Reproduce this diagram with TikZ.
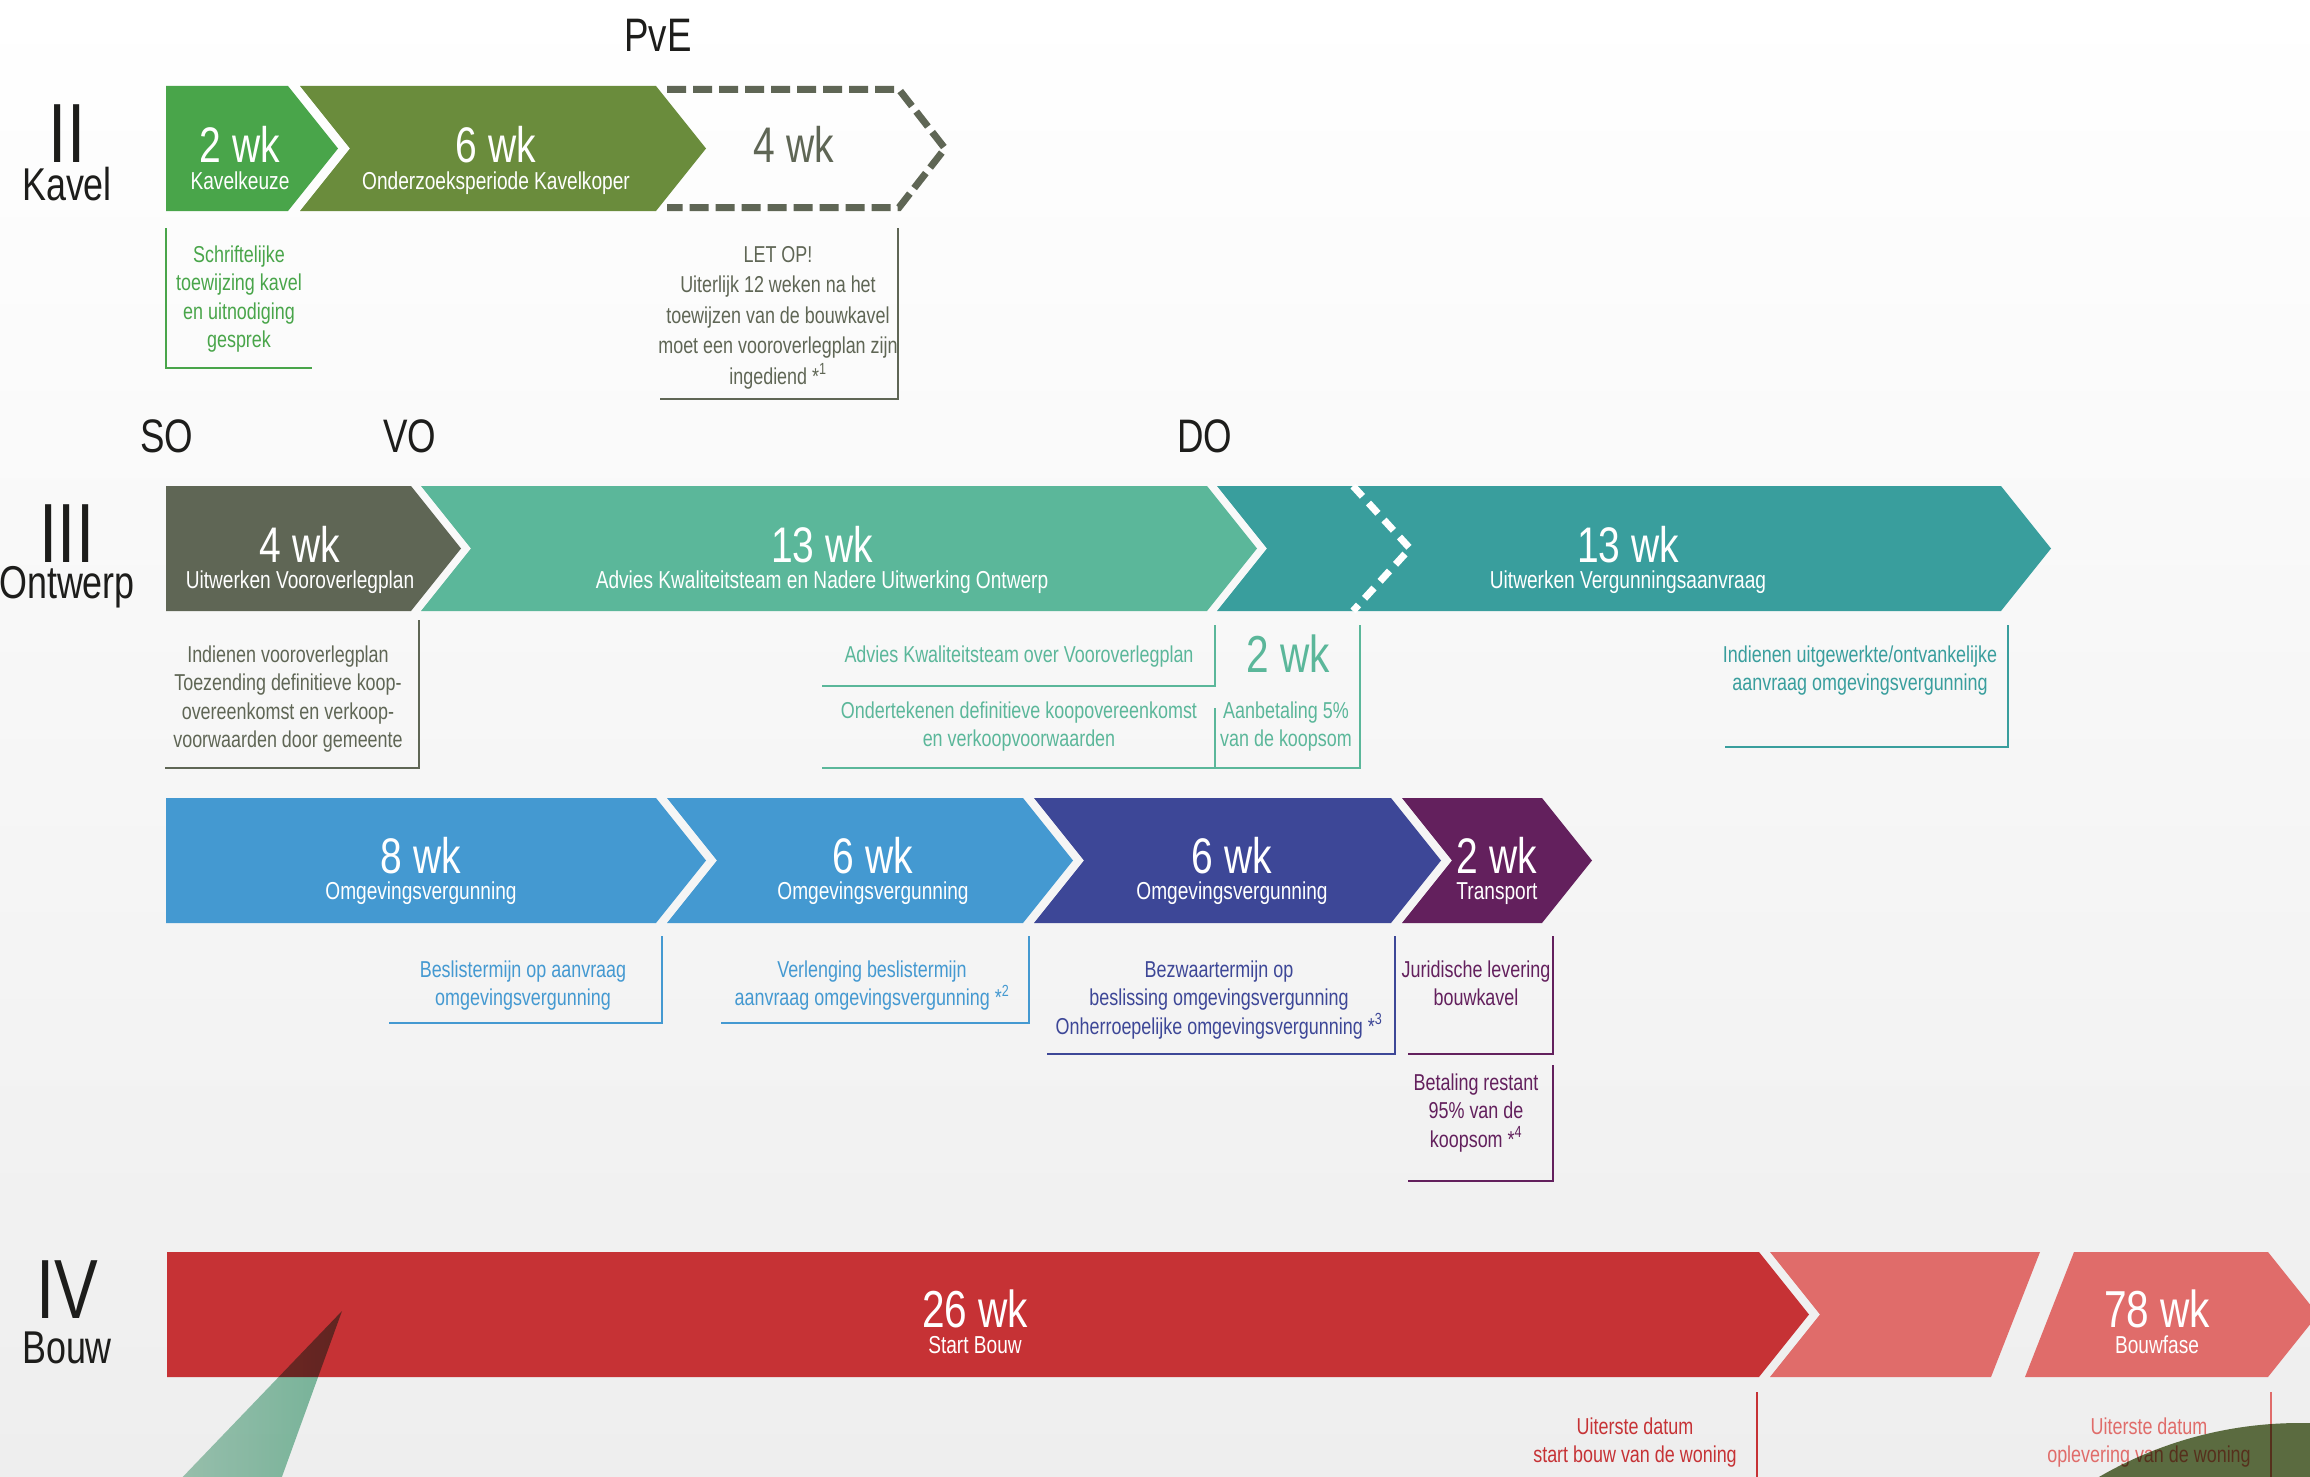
\documentclass[tikz,border=0pt]{standalone}
\usepackage{fontspec}
\setmainfont{Liberation Sans}[FakeStretch=0.78]
\definecolor{cgreen}{HTML}{49A54A}
\definecolor{colive}{HTML}{6A8C3C}
\definecolor{cgray}{HTML}{5F6655}
\definecolor{cmint}{HTML}{5BB79A}
\definecolor{cteal}{HTML}{399E9D}
\definecolor{cblue}{HTML}{4499D1}
\definecolor{cnavy}{HTML}{3D4797}
\definecolor{cpurple}{HTML}{63205D}
\definecolor{cred}{HTML}{C63235}
\definecolor{clred}{HTML}{E06C6A}
\definecolor{cink}{HTML}{1D1D1B}
\definecolor{ccircle}{HTML}{627345}
\definecolor{cbeamA}{HTML}{A4CDB9}
\definecolor{cbeamB}{HTML}{7CBEA1}
\definecolor{cbgbot}{HTML}{EEEEEE}
\newcommand\mlines[1]{\vtop{\halign{\hfil##\hfil\cr#1\crcr}}}
% two lines of different size, baselines #3 pt apart
\newcommand\duo[3]{\vtop{\baselineskip=#3pt\lineskiplimit=-\maxdimen\halign{\hfil##\hfil\cr#1\cr#2\crcr}}}
\newcommand\numf{\fontsize{50}{50}\selectfont}
\newcommand\bignumf{\fontsize{52}{52}\selectfont}
\newcommand\subf{\fontsize{24.5}{24.5}\selectfont}
\newcommand\romf{\fontsize{84}{84}\selectfont}
\newcommand\wordf{\fontsize{46}{46}\selectfont}
\tikzset{
  lbl/.style={text=white, anchor=base, inner sep=0pt},
  num/.style={font=\numf, text=white, anchor=base, inner sep=0pt},
  note/.style={font=\fontsize{23}{28.5}\selectfont, anchor=base, inner sep=0pt},
  notewide/.style={font=\fontsize{23}{30.5}\selectfont, anchor=base, inner sep=0pt},
  hdr/.style={font=\fontsize{47}{47}\selectfont, text=cink, anchor=base, inner sep=0pt},
  phase/.style={text=cink, anchor=base, inner sep=0pt},
  nline/.style={line width=2.5pt},
}
\begin{document}
\begin{tikzpicture}[x=1pt,y=-1pt]
\useasboundingbox (0,0) rectangle (2310,1477);
\clip (0,0) rectangle (2310,1477);
\shade[top color=white, bottom color=cbgbot] (0,0) rectangle (2310,1477);

% ---------- headers ----------
\node[hdr] (pve) at (658,52) {PvE};
\node[hdr] (so) at (167,452) {SO};
\node[hdr] (vo) at (410,452) {VO};
\node[hdr] (do) at (1205,452) {DO};
\node[phase] (ph2) at (67,163) {\duo{\romf II}{\wordf Kavel}{37}};
\node[phase] (ph3) at (67,562) {\duo{\romf III}{\wordf Ontwerp}{36}};
\node[phase] (ph4) at (67,1318) {\duo{\romf IV}{\wordf Bouw}{45}};

% ---------- row II ----------
\fill[cgreen] (166,86) -- (288,86) -- (338,148.5) -- (288,211) -- (166,211) -- cycle;
\fill[colive] (300,86) -- (656,86) -- (706,148.5) -- (656,211) -- (300,211) -- (350,148.5) -- cycle;
\draw[cgray, line width=7pt, dash pattern=on 19pt off 7pt] (667,89.5) -- (899,89.5) -- (945,148.5) -- (899,207.5) -- (667,207.5);
\node[lbl] (a1) at (240,163) {\duo{\numf 2 wk}{\subf Kavelkeuze}{26}};
\node[lbl] (a2) at (496,163) {\duo{\numf 6 wk}{\subf Onderzoeksperiode Kavelkoper}{26}};
\node[num, text=cgray] (a3) at (794,163) {4 wk};

\node[note, text=cgreen] (t1) at (239,262) {\mlines{Schriftelijke\cr toewijzing kavel\cr en uitnodiging\cr gesprek}};
\draw[nline, cgreen] (166,228) -- (166,368) -- (312,368);
\node[notewide, text=cgray] (t2) at (778,262) {\mlines{LET OP!\cr Uiterlijk 12 weken na het\cr toewijzen van de bouwkavel\cr moet een vooroverlegplan zijn\cr ingediend *\textsuperscript{1}}};
\draw[nline, cgray] (898,228) -- (898,399) -- (660,399);

% ---------- row III ----------
\fill[cgray] (166,486) -- (411,486) -- (461,548.5) -- (411,611) -- (166,611) -- cycle;
\fill[cmint] (421,486) -- (1207,486) -- (1257,548.5) -- (1207,611) -- (421,611) -- (471,548.5) -- cycle;
\fill[cteal] (1217,486) -- (2001,486) -- (2051,548.5) -- (2001,611) -- (1217,611) -- (1267,548.5) -- cycle;
\draw[white, line width=7pt, dash pattern=on 14pt off 9pt] (1353,486) -- (1410,548.5) -- (1353,611);
\node[lbl] (b1) at (300,562) {\duo{\numf 4 wk}{\subf Uitwerken Vooroverlegplan}{26}};
\node[lbl] (b2) at (822,562) {\duo{\numf 13 wk}{\subf Advies Kwaliteitsteam en Nadere Uitwerking Ontwerp}{26}};
\node[lbl] (b3) at (1628,562) {\duo{\numf 13 wk}{\subf Uitwerken Vergunningsaanvraag}{26}};

\node[note, text=cgray] (t3) at (288,662) {\mlines{Indienen vooroverlegplan\cr Toezending definitieve koop-\cr overeenkomst en verkoop-\cr voorwaarden door gemeente}};
\draw[nline, cgray] (419,620) -- (419,768) -- (165,768);
\node[note, text=cmint] (t4) at (1019,662) {Advies Kwaliteitsteam over Vooroverlegplan};
\draw[nline, cmint] (1215,625) -- (1215,686) -- (822,686);
\node[note, text=cmint] (t5) at (1019,718) {\mlines{Ondertekenen definitieve koopovereenkomst\cr en verkoopvoorwaarden}};
\draw[nline, cmint] (1215,708) -- (1215,768);
\draw[nline, cmint] (822,768) -- (1360,768) -- (1360,625);
\node[num, text=cmint, font=\fontsize{52}{52}\selectfont] (t6) at (1288,672) {2 wk};
\node[note, text=cmint] (t7) at (1286,718) {\mlines{Aanbetaling 5\%\cr van de koopsom}};
\node[note, text=cteal] (t8) at (1860,662) {\mlines{Indienen uitgewerkte/ontvankelijke\cr aanvraag omgevingsvergunning}};
\draw[nline, cteal] (2008,625) -- (2008,747) -- (1725,747);

% ---------- permit row ----------
\fill[cblue] (166,798) -- (656,798) -- (706,860.5) -- (656,923) -- (166,923) -- cycle;
\fill[cblue] (667,798) -- (1023,798) -- (1073,860.5) -- (1023,923) -- (667,923) -- (717,860.5) -- cycle;
\fill[cnavy] (1034,798) -- (1391,798) -- (1441,860.5) -- (1391,923) -- (1034,923) -- (1084,860.5) -- cycle;
\fill[cpurple] (1402,798) -- (1542,798) -- (1592,860.5) -- (1542,923) -- (1402,923) -- (1452,860.5) -- cycle;
\node[lbl] (c1) at (421,873) {\duo{\numf 8 wk}{\subf Omgevingsvergunning}{26}};
\node[lbl] (c2) at (873,873) {\duo{\numf 6 wk}{\subf Omgevingsvergunning}{26}};
\node[lbl] (c3) at (1232,873) {\duo{\numf 6 wk}{\subf Omgevingsvergunning}{26}};
\node[lbl] (c4) at (1497,873) {\duo{\numf 2 wk}{\subf Transport}{26}};

\node[note, text=cblue] (t9) at (523,977) {\mlines{Beslistermijn op aanvraag\cr omgevingsvergunning}};
\draw[nline, cblue] (662,936) -- (662,1023) -- (389,1023);
\node[note, text=cblue] (t10) at (872,977) {\mlines{Verlenging beslistermijn\cr aanvraag omgevingsvergunning *\textsuperscript{2}}};
\draw[nline, cblue] (1029,936) -- (1029,1023) -- (721,1023);
\node[note, text=cnavy] (t11) at (1219,977) {\mlines{Bezwaartermijn op\cr beslissing omgevingsvergunning\cr Onherroepelijke omgevingsvergunning *\textsuperscript{3}}};
\draw[nline, cnavy] (1395,936) -- (1395,1054) -- (1047,1054);
\node[note, text=cpurple] (t12) at (1476,977) {\mlines{Juridische levering\cr bouwkavel}};
\draw[nline, cpurple] (1553,936) -- (1553,1054) -- (1408,1054);
\node[note, text=cpurple] (t13) at (1476,1090) {\mlines{Betaling restant\cr 95\% van de\cr koopsom *\textsuperscript{4}}};
\draw[nline, cpurple] (1553,1065) -- (1553,1181) -- (1408,1181);

% ---------- row IV ----------
\fill[cred] (167,1252) -- (1759,1252) -- (1809,1314.5) -- (1759,1377) -- (167,1377) -- cycle;
\fill[clred] (1770,1252) -- (2040,1252) -- (1991,1377) -- (1770,1377) -- (1820,1314.5) -- cycle;
\fill[clred] (2074,1252) -- (2268,1252) -- (2318,1314.5) -- (2268,1377) -- (2025,1377) -- cycle;
\node[lbl] (d1) at (975,1327) {\duo{\bignumf 26 wk}{\subf Start Bouw}{26}};
\node[lbl] (d3) at (2157,1327) {\duo{\bignumf 78 wk}{\subf Bouwfase}{26}};

\node[note, text=cred] (t14) at (1635,1434) {\mlines{Uiterste datum\cr start bouw van de woning}};
\draw[nline, cred] (1757,1392) -- (1757,1480);
\node[note, text=clred] (t15) at (2149,1434) {\mlines{Uiterste datum\cr oplevering van de woning}};
\draw[nline, clred] (2271,1392) -- (2271,1480);

% ---------- decorations ----------
\begin{scope}[blend mode=multiply]
\shade[left color=cbeamA, right color=cbeamB] (342,1311) -- (175,1485) -- (279,1485) -- cycle;
\fill[ccircle] (2300,1824) circle (401);
\end{scope}
\end{tikzpicture}
\end{document}
